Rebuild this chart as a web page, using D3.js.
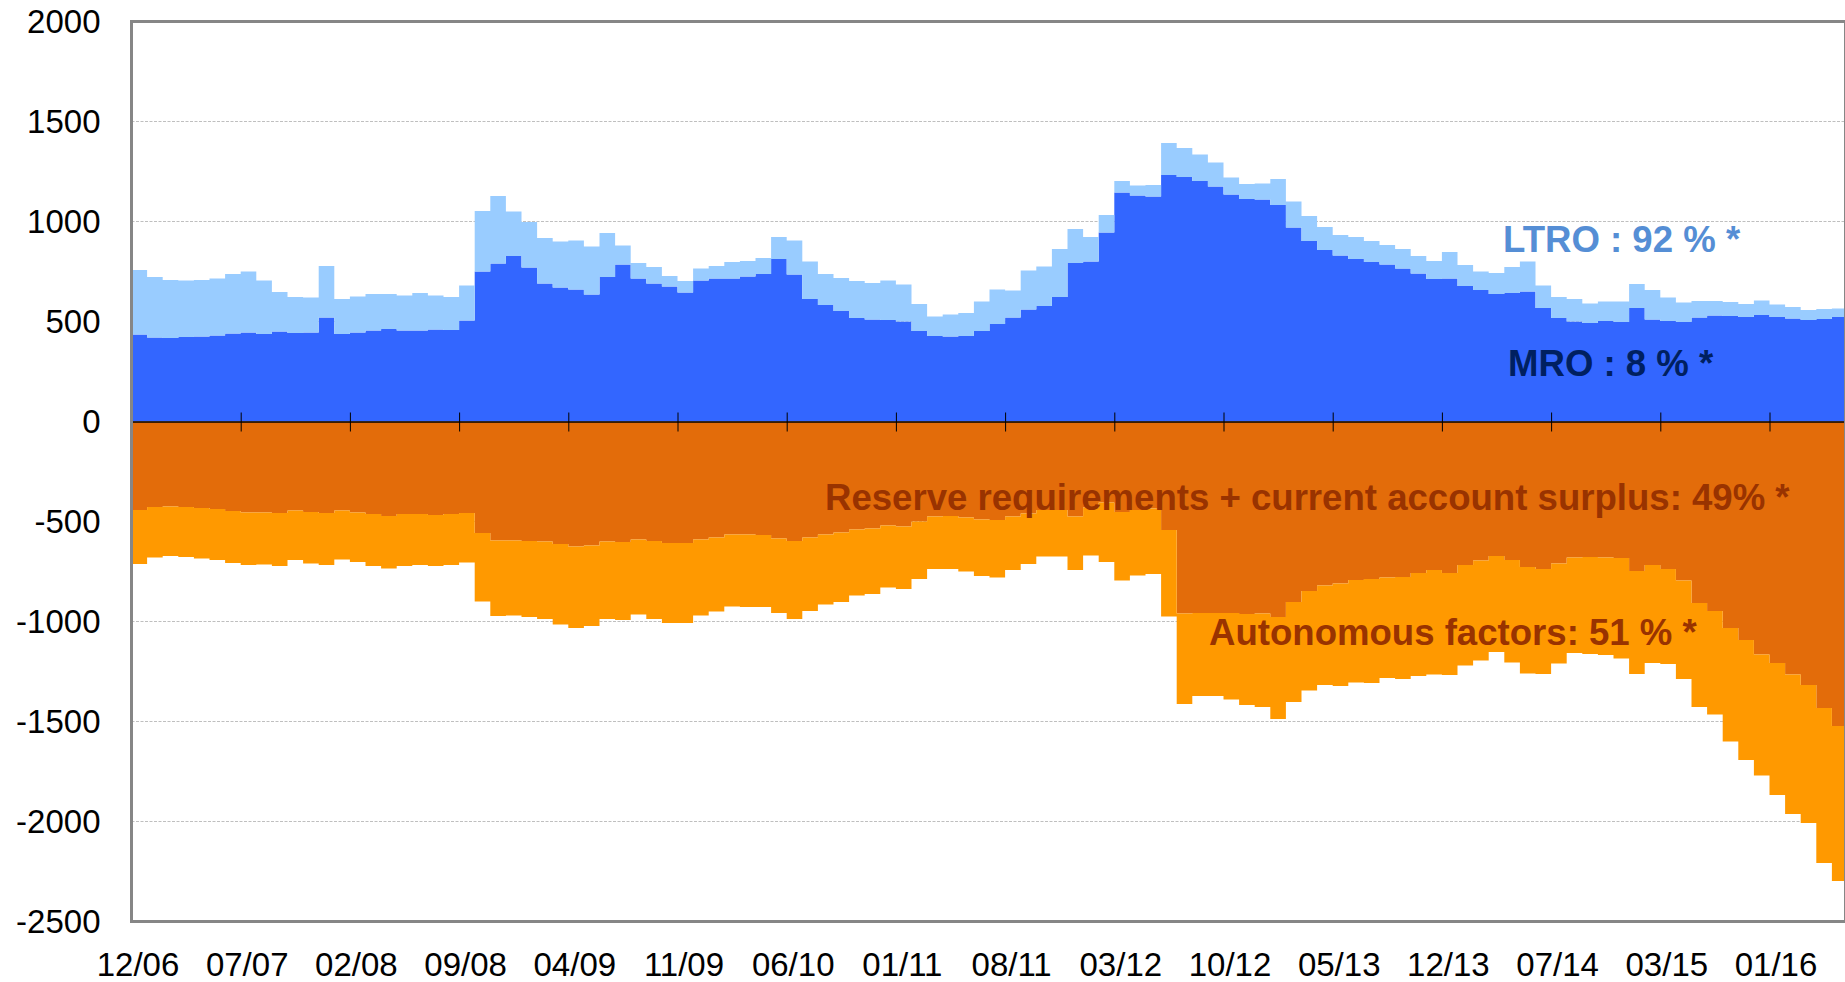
<!DOCTYPE html>
<html lang="en">

<head>
	<meta charset="utf-8">
	<title>liquidity_sources</title>
	<style>
		html, body { margin: 0; padding: 0; background: #fff; }
		svg { display: block; font-family: "Liberation Sans", Arial, sans-serif; }
	</style>
</head>

<body>
	<script src="https://cdn.jsdelivr.net/npm/d3@7"></script>
	<script>

		// one value per reserve maintenance period, EUR bn
		const mro = [435, 420, 417, 422, 425, 430, 440, 445, 437, 450, 442, 445, 520, 437, 445, 455, 463, 455, 455, 460,
			458, 505, 750, 790, 828, 770, 690, 670, 660, 635, 722, 785, 715, 690, 675, 645, 705, 715, 715, 725,
			738, 812, 735, 613, 583, 552, 518, 510, 508, 500, 452, 427, 425, 427, 453, 488, 520, 560, 577, 622,
			792, 800, 945, 1145, 1130, 1125, 1232, 1222, 1203, 1175, 1135, 1113, 1110, 1083, 970, 902, 857, 830, 812, 798,
			785, 765, 740, 712, 715, 677, 657, 637, 643, 650, 567, 517, 500, 493, 502, 497, 567, 510, 502, 498,
			520, 530, 527, 522, 533, 522, 515, 507, 513, 522];

		const ltro = [323, 303, 291, 283, 283, 285, 297, 305, 268, 198, 180, 175, 257, 175, 180, 183, 175, 175, 188, 170,
			165, 175, 303, 338, 222, 228, 228, 230, 245, 240, 221, 95, 77, 82, 53, 57, 60, 63, 82, 78,
			79, 111, 170, 187, 155, 166, 184, 182, 197, 185, 136, 98, 110, 116, 147, 172, 135, 195, 198, 240,
			171, 122, 88, 58, 50, 58, 161, 146, 132, 120, 85, 75, 80, 130, 130, 125, 115, 103, 111, 105,
			98, 98, 88, 91, 132, 106, 93, 105, 129, 150, 113, 106, 113, 97, 98, 103, 121, 147, 118, 97,
			83, 72, 70, 66, 72, 63, 57, 51, 49, 43];

		const reserve = [-442, -428, -425, -428, -433, -438, -448, -455, -455, -458, -445, -453, -458, -445, -455, -463, -472, -463, -463, -467,
			-463, -458, -558, -595, -595, -598, -600, -613, -625, -620, -600, -603, -590, -598, -608, -608, -590, -580, -565, -565,
			-568, -585, -598, -580, -565, -555, -540, -535, -520, -525, -500, -475, -472, -480, -490, -493, -475, -460, -442, -442,
			-475, -430, -405, -452, -442, -435, -543, -960, -957, -957, -958, -963, -960, -977, -902, -847, -820, -810, -793, -788,
			-780, -778, -757, -742, -757, -717, -695, -673, -692, -728, -738, -710, -680, -677, -680, -682, -748, -717, -737, -795,
			-907, -947, -1033, -1092, -1165, -1208, -1265, -1317, -1433, -1522];

		const autonomous = [-271, -252, -248, -250, -252, -254, -260, -263, -260, -265, -248, -257, -260, -245, -247, -260, -263, -259, -254, -255,
			-255, -247, -342, -377, -375, -380, -387, -402, -407, -403, -387, -389, -375, -390, -399, -399, -380, -370, -360, -362,
			-359, -373, -389, -367, -350, -347, -330, -328, -310, -313, -287, -263, -265, -270, -283, -287, -268, -252, -233, -233,
			-267, -240, -297, -343, -328, -327, -432, -452, -416, -415, -432, -454, -468, -511, -501, -498, -497, -512, -512, -519,
			-503, -510, -515, -523, -511, -503, -500, -479, -513, -532, -525, -500, -478, -485, -488, -503, -515, -490, -475, -493,
			-521, -518, -567, -601, -605, -659, -698, -691, -775, -775];

		// a label every 7 periods
		const tickLabels = ["12/06", "07/07", "02/08", "09/08", "04/09", "11/09", "06/10", "01/11",
			"08/11", "03/12", "10/12", "05/13", "12/13", "07/14", "03/15", "01/16"];
		const yTicks = [2000, 1500, 1000, 500, 0, -500, -1000, -1500, -2000, -2500];

		const keys = ["mro", "ltro", "reserve", "autonomous"];
		const colors = {
			mro: "#3366FF",
			ltro: "#99CCFF",
			reserve: "#E36C0A",
			autonomous: "#FF9900"
		};

		const labels = [
			{ text: "LTRO : 92 % *", x: 1503, y: 252, color: "#558ED5" },
			{ text: "MRO : 8 % *", x: 1508, y: 376, color: "#002060" },
			{ text: "Reserve requirements + current account surplus: 49% *", x: 825, y: 510, color: "#993300" },
			{ text: "Autonomous factors: 51 % *", x: 1209, y: 645, color: "#993300" }
		];

		const width = 1845;
		const height = 982;
		const plotLeft = 131.5;
		const plotTop = 21.5;
		const plotBottom = 921.5;
		const step = 15.6;
		const n = mro.length;

		const rows = d3.range(n).map((i) => {
			return { i: i, mro: mro[i], ltro: ltro[i], reserve: reserve[i], autonomous: autonomous[i] };
		});
		// repeat the last period so the step closes on the right edge
		rows.push(Object.assign({}, rows[n - 1], { i: n }));

		const series = d3.stack()
			.keys(keys)
			.offset(d3.stackOffsetDiverging)(rows);

		const x = d3.scaleLinear()
			.domain([0, n])
			.range([plotLeft, plotLeft + n * step]);

		const y = d3.scaleLinear()
			.domain([-2500, 2000])
			.range([plotBottom, plotTop]);

		const svg = d3.select("body")
			.append("svg")
			.attr("width", width)
			.attr("height", height);

		// dashed grid
		svg.append("g")
			.selectAll("line")
			.data(yTicks.filter((d) => d !== 0 && d !== 2000 && d !== -2500))
			.join("line")
			.attr("x1", plotLeft)
			.attr("x2", width)
			.attr("y1", (d) => y(d))
			.attr("y2", (d) => y(d))
			.attr("stroke", "#BFBFBF")
			.attr("stroke-width", 1)
			.attr("stroke-dasharray", "3,1.5");

		const area = d3.area()
			.curve(d3.curveStepAfter)
			.x((d) => x(d.data.i))
			.y0((d) => y(d[0]))
			.y1((d) => y(d[1]));

		svg.append("g")
			.selectAll("path")
			.data(series)
			.join("path")
			.attr("fill", (d) => colors[d.key])
			.attr("d", area);

		// zero line with period ticks
		const zeroAxis = svg.append("g")
			.attr("transform", `translate(0,${y(0)})`)
			.call(d3.axisBottom(x)
				.tickValues(d3.range(0, n, 7))
				.tickFormat("")
				.tickSizeOuter(0)
				.tickSizeInner(10));
		zeroAxis.select(".domain")
			.attr("stroke", "#000")
			.attr("stroke-width", 1.5);
		zeroAxis.selectAll(".tick line")
			.attr("y1", -9)
			.attr("y2", 10)
			.attr("stroke", "#000");

		// date labels under the frame
		const dateAxis = svg.append("g")
			.attr("transform", `translate(6,${plotBottom})`)
			.call(d3.axisBottom(x)
				.tickValues(d3.range(0, n, 7))
				.tickFormat((d, i) => tickLabels[i])
				.tickSize(0)
				.tickPadding(31));
		dateAxis.select(".domain").remove();
		dateAxis.selectAll("text")
			.attr("font-family", "'Liberation Sans', Arial, sans-serif")
			.attr("font-size", 33)
			.attr("fill", "#000");

		const valueAxis = svg.append("g")
			.attr("transform", `translate(${plotLeft},0)`)
			.call(d3.axisLeft(y)
				.tickValues(yTicks)
				.tickFormat((d) => String(d))
				.tickSize(0)
				.tickPadding(31));
		valueAxis.select(".domain").remove();
		valueAxis.selectAll("text")
			.attr("font-family", "'Liberation Sans', Arial, sans-serif")
			.attr("font-size", 33)
			.attr("fill", "#000");

		// plot frame
		svg.append("rect")
			.attr("x", plotLeft)
			.attr("y", plotTop)
			.attr("width", width + 0.5 - plotLeft)
			.attr("height", plotBottom - plotTop)
			.attr("fill", "none")
			.attr("stroke", "#868686")
			.attr("stroke-width", 3);

		svg.append("g")
			.selectAll("text")
			.data(labels)
			.join("text")
			.attr("x", (d) => d.x)
			.attr("y", (d) => d.y)
			.attr("font-size", 36.6)
			.attr("font-weight", "bold")
			.attr("fill", (d) => d.color)
			.text((d) => d.text);
	</script>
</body>

</html>
